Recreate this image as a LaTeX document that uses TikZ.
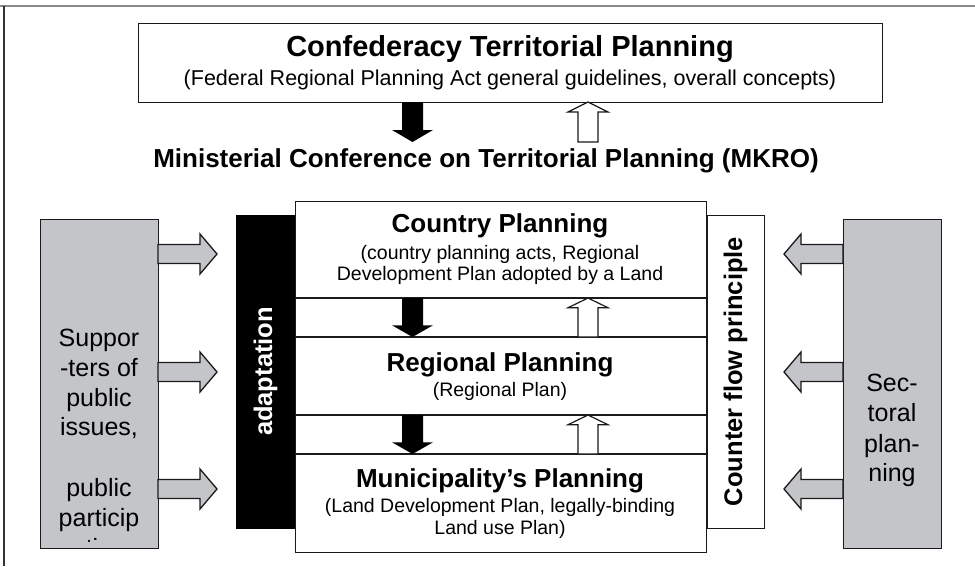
\documentclass[tikz,border=0pt]{standalone}
\usepackage{fontspec}
\setmainfont{Liberation Sans}
\definecolor{boxline}{HTML}{1A1A1A}
\definecolor{grayfill}{HTML}{C3C5C8}
\definecolor{frametop}{HTML}{8A8A8A}
\definecolor{frameleft}{HTML}{333333}
\begin{document}
\begin{tikzpicture}[x=1pt,y=-1pt,
  box/.style={draw=boxline, line width=1.3pt, inner sep=0pt, anchor=north west},
  graybox/.style={box, fill=grayfill},
  ttl/.style={font=\bfseries\fontsize{26}{29}\selectfont, anchor=base, inner sep=0pt},
  sub/.style={font=\fontsize{19.5}{22}\selectfont, anchor=base, inner sep=0pt},
  side/.style={font=\fontsize{25}{28}\selectfont, anchor=base, inner sep=0pt},
  vert/.style={font=\bfseries\fontsize{25.5}{28}\selectfont, rotate=90, inner sep=0pt},
  garrow/.pic={\draw[fill=grayfill, draw=boxline, line width=1.3pt, line join=miter]
     (0,-9.5) -- (42,-9.5) -- (42,-20) -- (59,0) -- (42,20) -- (42,9.5) -- (0,9.5) -- cycle;},
  darrow/.pic={\fill[black] (-10.5,0) -- (10.5,0) -- (10.5,28) -- (20.5,28) -- (0,40)
     -- (-20.5,28) -- (-10.5,28) -- cycle;},
  uarrow/.pic={\draw[fill=white, draw=boxline, line width=1.2pt] (-10,40) -- (10,40)
     -- (10,10) -- (20,10) -- (0,0) -- (-20,10) -- (-10,10) -- cycle;}
]
\useasboundingbox (0,0) rectangle (975,566);
% outer frame
\draw[frametop, line width=2pt] (0,6) -- (975,6);
\draw[frameleft, line width=1.2pt] (4,6) -- (4,566);

% top box
\node[box, minimum width=744pt, minimum height=79pt] (top) at (138,23) {};
\node[font=\bfseries\fontsize{29}{32}\selectfont, anchor=base, inner sep=0pt] (toptitle) at (510,56) {Confederacy Territorial Planning};
\node[font=\fontsize{21.5}{24}\selectfont, anchor=base, inner sep=0pt] (topsub) at (510,85) {(Federal Regional Planning Act general guidelines, overall concepts)};

\pic at (412.5,102) {darrow};
\pic at (588,102) {uarrow};

\node[font=\bfseries\fontsize{26}{30}\selectfont, anchor=base, inner sep=0pt] (mkro) at (486,167) {Ministerial Conference on Territorial Planning (MKRO)};

% side gray boxes
\node[graybox, minimum width=118pt, minimum height=329pt] (supp) at (40,219) {};
\node[graybox, minimum width=98pt, minimum height=329pt] (sect) at (843,219) {};

\begin{scope}
\clip (40,219) rectangle (158,541);
\node[side] (s1) at (99,346) {Suppor};
\node[side] (s2) at (99,376) {-ters of};
\node[side] (s3) at (99,406) {public};
\node[side] (s4) at (99,435) {issues,};
\node[side] (s5) at (99,496) {public};
\node[side] (s6) at (99,526) {particip};
\node[side] (s7) at (99,556) {ation};
\end{scope}

\node[side] (t1) at (892,391) {Sec-};
\node[side] (t2) at (892,421) {toral};
\node[side] (t3) at (892,452) {plan-};
\node[side] (t4) at (892,481) {ning};

% adaptation bar
\node[box, draw=black, fill=black, minimum width=59pt, minimum height=313pt] (adaptbox) at (236,215) {};
\node[vert, text=white] (adapt) at (265.5,371.5) {adaptation};

% counter flow bar
\node[box, fill=white, minimum width=57pt, minimum height=313pt] (cfbox) at (707,215) {};
\node[vert] (cf) at (735.5,371.5) {Counter flow principle};

% middle column
\node[box, fill=white, minimum width=411pt, minimum height=351pt] (mid) at (295,201) {};
\draw[boxline, line width=1.3pt] (295,298) -- (706,298);
\draw[boxline, line width=1.3pt] (295,337) -- (706,337);
\draw[boxline, line width=1.3pt] (295,415) -- (706,415);
\draw[boxline, line width=1.3pt] (295,454) -- (706,454);

\node[ttl] (cp) at (500,232) {Country Planning};
\node[sub] (cp1) at (500,259) {(country planning acts, Regional};
\node[sub] (cp2) at (500,280) {Development Plan adopted by a Land};

\node[ttl] (rp) at (500,371) {Regional Planning};
\node[sub] (rp1) at (500,396) {(Regional Plan)};

\node[ttl] (mp) at (500,487) {Municipality’s Planning};
\node[sub] (mp1) at (500,512) {(Land Development Plan, legally-binding};
\node[sub] (mp2) at (500,534) {Land use Plan)};

\pic[yscale=0.975] at (412.5,298) {darrow};
\pic[yscale=0.975] at (588,298) {uarrow};
\pic[yscale=0.975] at (412.5,415) {darrow};
\pic[yscale=0.975] at (588,415) {uarrow};

% side arrows
\pic at (158,254) {garrow};
\pic at (158,372) {garrow};
\pic at (158,489) {garrow};
\pic[xscale=-1] at (843,254) {garrow};
\pic[xscale=-1] at (843,372) {garrow};
\pic[xscale=-1] at (843,489) {garrow};
\end{tikzpicture}
\end{document}
